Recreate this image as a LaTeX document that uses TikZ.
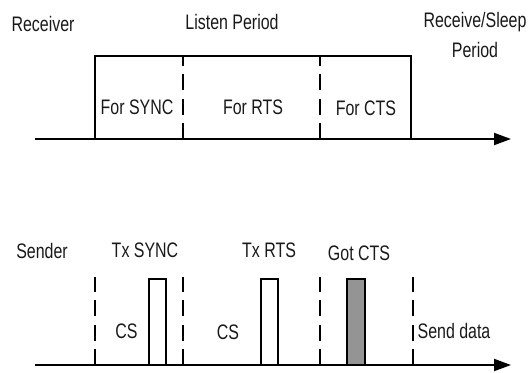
\documentclass[tikz,border=0pt]{standalone}
\usepackage{fontspec}
\setmainfont[FakeStretch=0.76]{Liberation Sans}
\usetikzlibrary{arrows.meta}
\begin{document}
\begin{tikzpicture}[x=1pt,y=-1pt,
  lbl/.style={font=\fontsize{21}{23}\selectfont, inner sep=0pt, text=black!90},
  axis/.style={line width=2pt, -{Triangle[length=17pt,width=12pt]}},
  frame/.style={line width=1.5pt},
  dsh/.style={line width=1.5pt, dash pattern=on 16pt off 8.5pt},
  slot/.style={draw, line width=1.5pt},
  got/.style={slot, fill=black!42}]
\useasboundingbox (0,0) rectangle (529,372);

% ---- Receiver timeline ----
\coordinate (ra0) at (35,139);
\coordinate (ra1) at (511,139);
\coordinate (bl) at (95,139);
\coordinate (tl) at (95,56);
\coordinate (tr) at (411,56);
\coordinate (br) at (411,139);
\draw[frame] (bl) -- (tl) -- (tr) -- (br);
\coordinate (d1b) at (183,139); \coordinate (d1t) at (183,56);
\coordinate (d2b) at (320,139); \coordinate (d2t) at (320,56);
\draw[dsh] (d1b) -- (d1t);
\draw[dsh] (d2b) -- (d2t);
\draw[axis] (ra0) -- (ra1);

\node[lbl] (receiver) at (43,24) {Receiver};
\node[lbl] (listen) at (232,22) {Listen Period};
\node[lbl] (rs1) at (475,22) {Receive/Sleep};
\node[lbl] (rs2) at (475,50) {Period};
\node[lbl] (fsync) at (137,107) {For SYNC};
\node[lbl] (frts) at (253,107) {For RTS};
\node[lbl] (fcts) at (366,108) {For CTS};

% ---- Sender timeline ----
\coordinate (sa0) at (35,365);
\coordinate (sa1) at (511,365);
\foreach \x/\n in {95/a,183/b,320/c,413/d}{
  \coordinate (s\n b) at (\x,365);
  \coordinate (s\n t) at (\x,277);
  \draw[dsh] (s\n b) -- (s\n t);
}
\draw[slot] (149,279) rectangle (166,365);
\draw[slot] (261,279) rectangle (278,365);
\draw[got] (347,279) rectangle (365,365);
\draw[axis] (sa0) -- (sa1);

\node[lbl] (sender) at (42,251) {Sender};
\node[lbl] (txsync) at (145,250) {Tx SYNC};
\node[lbl] (txrts) at (269,250) {Tx RTS};
\node[lbl] (gotcts) at (359,253) {Got CTS};
\node[lbl] (cs1) at (126.5,331) {CS};
\node[lbl] (cs2) at (228,332) {CS};
\node[lbl] (send) at (454,331) {Send data};
\end{tikzpicture}
\end{document}
